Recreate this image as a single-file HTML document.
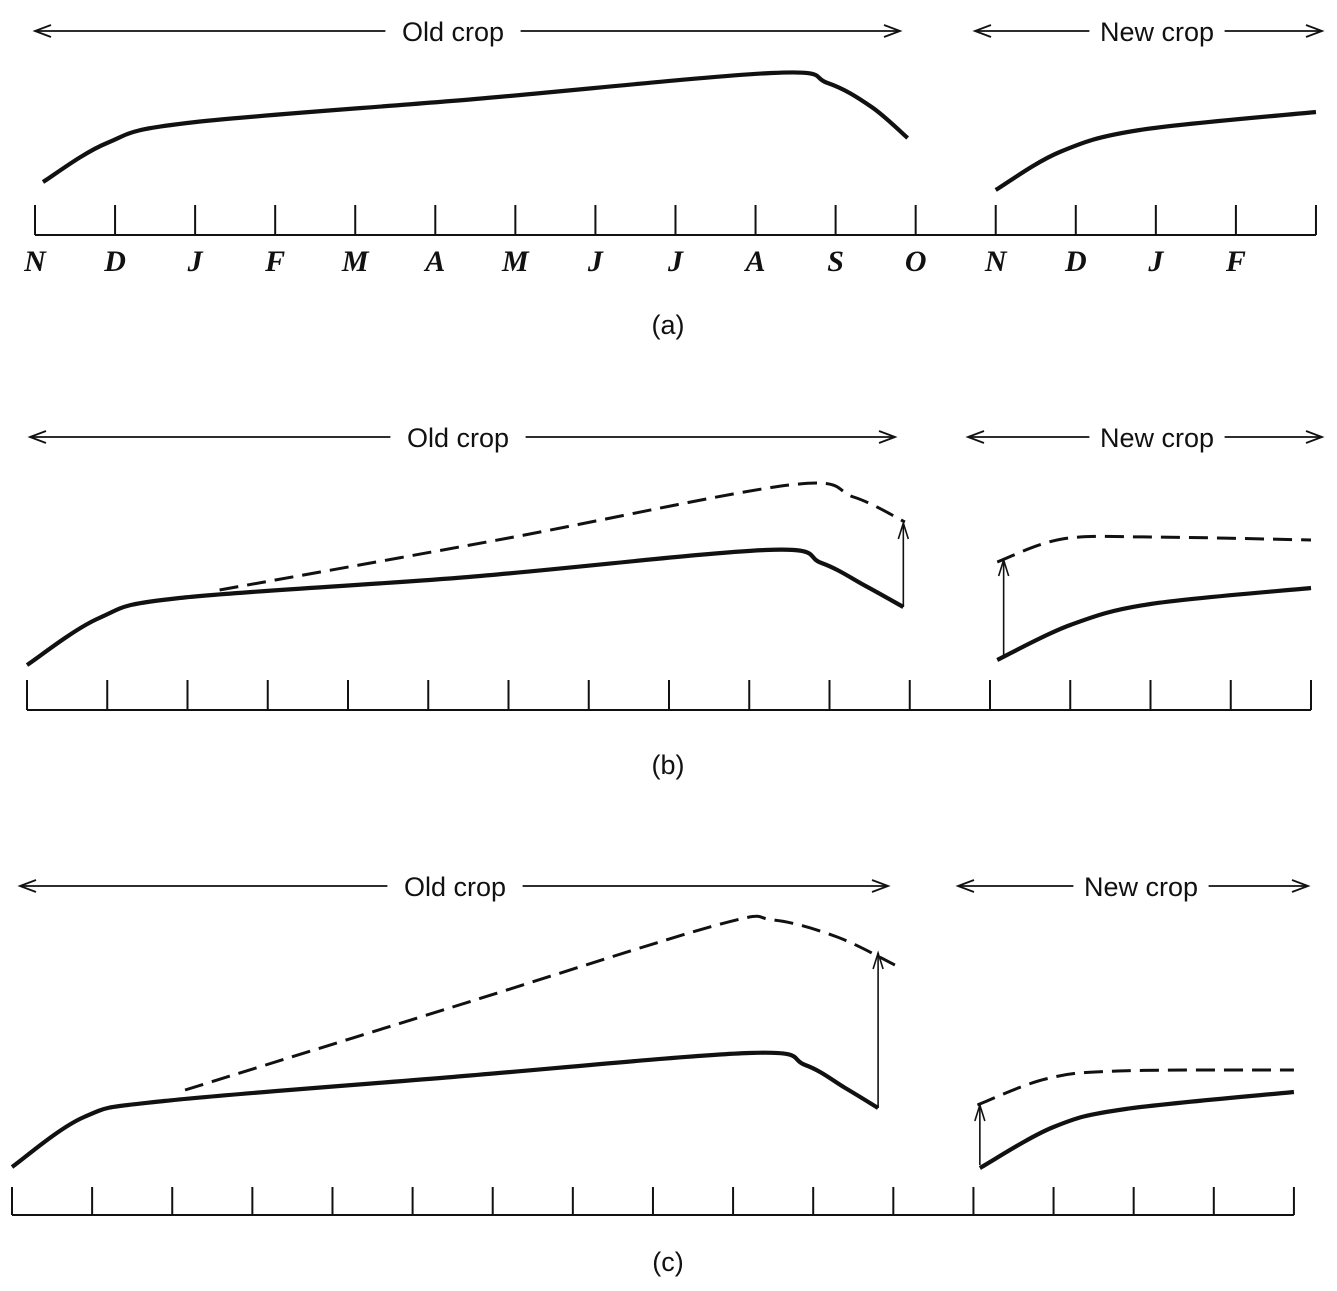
<!DOCTYPE html>
<html><head><meta charset="utf-8"><style>
html,body{margin:0;padding:0;background:#fff}
svg{display:block}
text{font-family:"Liberation Sans",sans-serif;fill:#111}
.mon{font-family:"Liberation Serif",serif;font-style:italic;font-weight:bold;font-size:30px}
</style></head><body>
<svg id="chart" width="1337" height="1291" viewBox="0 0 1337 1291"></svg>
<script>
const monthLabels = ["N","D","J","F","M","A","M","J","J","A","S","O","N","D","J","F"];
const captions = ["(a)","(b)","(c)"];
// curves: [monthIndex, priceLevel]
const aOldSolid = [[0.1,53],[0.9,92],[1.9,112],[5.5,136],[9.2,162],[9.9,152],[10.45,128],[10.9,97]];
const aNewSolid = [[12,45],[12.8,83],[13.8,105],[16,123]];
const bOldSolid = [[0,45],[0.9,92],[1.9,112],[5.5,133],[9.2,160],[9.9,147],[10.45,124],[10.92,103]];
const bOldDash = [[2.4,120],[6,172],[9.5,225],[10.3,213],[10.94,188]];
const bNewSolid = [[12.09,50],[13.0,85],[14.0,106],[16,122]];
const bNewDash = [[12.09,148],[12.9,171],[14.0,173],[16,170]];
const cOldSolid = [[0,48],[0.9,98],[1.9,114],[5.5,138],[9.2,162],[9.9,150],[10.4,127],[10.81,107]];
const cOldDash = [[2.16,125],[5.5,208],[8.8,290],[9.5,295],[10.3,278],[11.02,250]];
const cNewSolid = [[12.08,47],[13.0,88],[13.9,106],[16,123]];
const cNewDash = [[12.05,110],[12.9,136],[13.8,144],[16,145]];

const panels = [
 {x0:35,step:80.06,base:235,tickTop:205,arrowY:31,oldA:[35,900,453],newA:[975,1322,1157],cap:325,labels:true,
  curves:[[aOldSolid,0],[aNewSolid,0]],arrows:[]},
 {x0:27,step:80.25,base:710,tickTop:680,arrowY:437,oldA:[30,895,458],newA:[968,1322,1157],cap:765,labels:false,
  curves:[[bOldSolid,0],[bOldDash,1],[bNewSolid,0],[bNewDash,1]],arrows:[[10.92,103,187],[12.17,55,150]]},
 {x0:12,step:80.12,base:1215,tickTop:1187,arrowY:886,oldA:[20,888,455],newA:[958,1308,1141],cap:1262,labels:false,
  curves:[[cOldSolid,0],[cOldDash,1],[cNewSolid,0],[cNewDash,1]],arrows:[[10.81,107,262],[12.08,50,110]]}
];
const NS="http://www.w3.org/2000/svg";
const svg=document.getElementById('chart');
function mk(tag,attrs,parent){const e=document.createElementNS(NS,tag);for(const k in attrs)e.setAttribute(k,attrs[k]);(parent||svg).appendChild(e);return e;}
function path(pts){let d=`M${pts[0][0]},${pts[0][1]}`;for(let i=0;i<pts.length-1;i++){const p0=pts[i-1]||pts[i],p1=pts[i],p2=pts[i+1],p3=pts[i+2]||p2;
 const c1=[p1[0]+(p2[0]-p0[0])/6,p1[1]+(p2[1]-p0[1])/6],c2=[p2[0]-(p3[0]-p1[0])/6,p2[1]-(p3[1]-p1[1])/6];
 d+=` C${c1[0]},${c1[1]} ${c2[0]},${c2[1]} ${p2[0]},${p2[1]}`;}return d;}
function hArrow(g,x1,x2,y,txt,cx,name){
 const hw=txt.length*7.2+10;
 let l=mk('line',{x1:x1,y1:y,x2:cx-hw,y2:y,stroke:'#111','stroke-width':1.8},g);
 
 l=mk('line',{x1:cx+hw,y1:y,x2:x2,y2:y,stroke:'#111','stroke-width':1.8},g);
 
 mk('polyline',{points:`${x1+16},${y-6} ${x1},${y} ${x1+16},${y+6}`,fill:'none',stroke:'#111','stroke-width':1.8},g);
 mk('polyline',{points:`${x2-16},${y-6} ${x2},${y} ${x2-16},${y+6}`,fill:'none',stroke:'#111','stroke-width':1.8},g);
 const t=mk('text',{x:cx,y:y+10,'text-anchor':'middle','font-size':27},g);t.textContent=txt;
 
}
panels.forEach((P,pi)=>{
 const g=mk('g',{});
 
 
 const xs=m=>P.x0+m*P.step, ys=v=>P.base-v;
 const xEnd=xs(16);
 const ax=mk('line',{x1:P.x0,y1:P.base,x2:xEnd,y2:P.base,stroke:'#111','stroke-width':2},g);
 
 for(let i=0;i<=16;i++){const t=mk('line',{x1:xs(i),y1:P.tickTop,x2:xs(i),y2:P.base,stroke:'#111','stroke-width':2},g);
  }
 if(P.labels) monthLabels.forEach((m,i)=>{const t=mk('text',{x:xs(i),y:P.base+36,'text-anchor':'middle',class:'mon'},g);t.textContent=m;
  });
 hArrow(g,P.oldA[0],P.oldA[1],P.arrowY,'Old crop',P.oldA[2],'old-crop');
 hArrow(g,P.newA[0],P.newA[1],P.arrowY,'New crop',P.newA[2],'new-crop');
 P.curves.forEach(([data,dash])=>{
  const pts=data.map(d=>[xs(d[0]),ys(d[1])]);
  const p=mk('path',{d:path(pts),fill:'none',stroke:'#111','stroke-width':dash?3:4.2,'stroke-dasharray':dash?'19 9':'none','stroke-linecap':'butt'},g);
  
  
 });
 P.arrows.forEach(([m,v1,v2])=>{
  const x=xs(m),y1=ys(v1),y2=ys(v2);
  const l=mk('line',{x1:x,y1:y1,x2:x,y2:y2,stroke:'#111','stroke-width':1.6},g);
  
  mk('polyline',{points:`${x-5},${y2+16} ${x},${y2} ${x+5},${y2+16}`,fill:'none',stroke:'#111','stroke-width':1.6},g);
 });
 const c=mk('text',{x:668,y:P.cap+9,'text-anchor':'middle','font-size':27},g);c.textContent=captions[pi];
 
});
</script>
</body></html>
